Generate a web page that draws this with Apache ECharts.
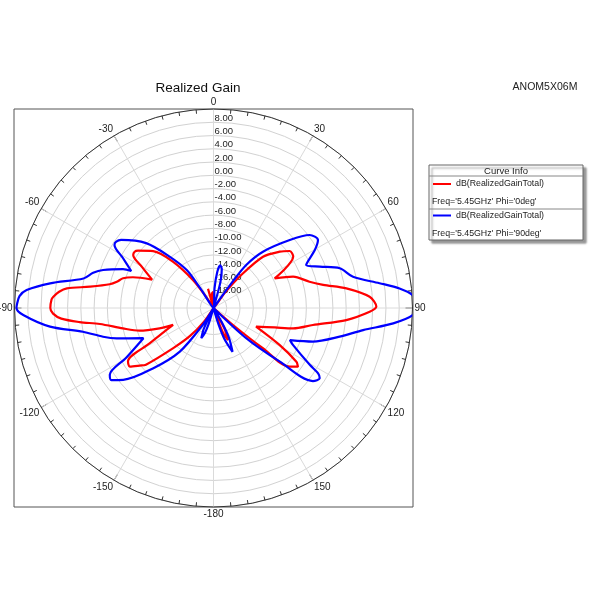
<!DOCTYPE html>
<html><head><meta charset="utf-8">
<script src="https://cdn.jsdelivr.net/npm/echarts@6/dist/echarts.min.js"></script>
<style>html,body{margin:0;padding:0;background:#fff}#c{width:600px;height:600px}</style>
</head><body><div id="c"></div>
<script>
// ---- text ----
const titleText = 'Realized Gain';
const designName = 'ANOM5X06M';
const legendTitle = 'Curve Info';
const seriesNames = ['dB(RealizedGainTotal)', 'dB(RealizedGainTotal)'];
const seriesSubtitles = ["Freq='5.45GHz' Phi='0deg'", "Freq='5.45GHz' Phi='90deg'"];
const seriesColors = ['#ff0000', '#0000ff'];

// ---- axes ----
const angleTickValues = [0, 30, 60, 90, 120, 150, 180, 210, 240, 270, 300, 330];
const angleTickLabels = ['0', '30', '60', '90', '120', '150', '-180', '-150', '-120', '-90', '-60', '-30'];
const radiusMin = -20, radiusMax = 10, radiusStep = 2;

// ---- data: theta (deg, -180..180) and gain (dB) ----
const redTheta = [-180, -150, -145, -140, -135, -130, -128, -125, -122, -118.9, -116.3, -112.7, -110.7, -107, -102.7, -98, -96, -94, -92, -90, -87, -86, -84, -82.4, -80.2, -77.1, -74.8, -71.8, -69.1, -65.2, -60.2, -56.6, -54.5, -52.8, -46.7, -41.2, -36.2, -33.5, -32, -20, -16, -11, -6, -2, 1, 35, 37, 40, 44, 49.6, 53.2, 57.2, 64.1, 68.5, 74.7, 78.1, 81.6, 85.9, 89.5, 91.4, 95.2, 99.7, 104.3, 107.6, 113.6, 119.2, 123.0, 124.8, 127.6, 129.2, 131.1, 133, 149, 152, 155.6, 159, 162, 180];
const redGain  = [-20, -20, -17.5, -14.5, -11.5, -6.7, -5.9, -4.6, -4.8, -9.1, -11.3, -13.4, -11.3, -8.3, -6.0, -2.7, 0.3, 3.0, 4.2, 4.6, 4.45, 4.2, 3.4, 2.3, -1.1, -3.95, -4.9, -5.65, -7.0, -9.8, -7.6, -5.5, -5.4, -5.7, -7.5, -10.7, -14.8, -18, -20, -20, -17, -19.5, -17.8, -17.6, -20, -20, -17, -13.5, -9.25, -6.9, -5.65, -5.7, -9.75, -7.1, -5.0, -3.1, 0.25, 3.6, 4.55, 3.55, 0.1, -4.8, -7.6, -10.3, -13.0, -8.6, -5.1, -4.5, -5.5, -10.4, -16.1, -20, -20, -16.5, -14.7, -16, -20, -20];

const blueTheta = [-180, -166, -163, -161, -158, -155, -152, -149, -147.5, -142.3, -134.9, -128.5, -125.2, -122.8, -119.6, -113.3, -107.4, -104.6, -100.3, -96.5, -92.1, -90, -89.1, -86.5, -84.5, -81.4, -77.2, -73.7, -71, -66.7, -65.8, -61.1, -57.5, -55.7, -53.6, -46.1, -40.5, -35.2, -34, -32.5, 1, 3, 6, 9, 12, 15, 18, 34, 36, 37.3, 41.3, 48.3, 52.8, 56.9, 60.2, 65.1, 68.7, 72.5, 77.4, 81.5, 84, 86.3, 89, 92, 94.9, 98.4, 102.8, 108.7, 112.8, 114.9, 120.6, 122, 123.5, 126.3, 129, 132.7, 135, 148, 150, 152.5, 156.5, 160.5, 163, 165, 180];
const blueGain  = [-20, -20, -17.5, -16, -15.1, -16.5, -20, -20, -17, -11.7, -7.1, -2.6, -1.15, -1.4, -4.9, -8.5, -4.7, -2.8, 0.0, 4.8, 8.7, 9.7, 9.65, 9.3, 8.3, 4.9, 0.1, -1.1, -2.4, -5.15, -6.4, -4.4, -2.3, -2.25, -2.7, -5.9, -9.8, -13, -16.4, -20, -20, -17, -14.5, -13.5, -14, -16, -20, -20, -15, -11.8, -8.7, -4.6, -1.8, -1.2, -2.4, -4.6, -2.8, -0.05, 1.55, 5.3, 8.2, 10.1, 10.8, 10.1, 7.2, 2.8, -0.5, -4.2, -7.5, -6.8, -3.1, -1.4, -0.8, -1.4, -7.2, -13.3, -20, -20, -17.5, -15, -12.8, -15, -17.5, -20, -20];

function toPolar(theta, gain) {
  return theta.map((t, i) => [gain[i], t < 0 ? t + 360 : t]);
}

const FONT = 'Liberation Sans, Arial, sans-serif';
const chart = echarts.init(document.getElementById('c'), null, {renderer: 'canvas'});

const lx = 429, ly = 165, lw = 154, lh = 75;

chart.setOption({
  animation: false,
  backgroundColor: '#ffffff',
  title: [
    {text: titleText, left: 193, top: 76, textAlign: 'center',
     textStyle: {fontFamily: FONT, fontSize: 13.5, fontWeight: 'normal', color: '#111'}},
    {text: designName, left: 540, top: 77, textAlign: 'center',
     textStyle: {fontFamily: FONT, fontSize: 10.5, fontWeight: 'normal', color: '#222'}}
  ],
  polar: {center: [213.5, 308], radius: 199},
  angleAxis: {
    type: 'value', min: 0, max: 360, interval: 30, startAngle: 90, clockwise: true,
    axisLine: {lineStyle: {color: '#333', width: 1}},
    axisTick: {show: true, inside: true, length: 7, lineStyle: {color: '#333'}},
    minorTick: {show: true, splitNumber: 6, length: 4, lineStyle: {color: '#333'}},
    axisLabel: {margin: 2, fontSize: 10, color: '#222', fontFamily: FONT,
      formatter: v => { const k = angleTickValues.indexOf(Math.round(v)); return k >= 0 ? angleTickLabels[k] : ''; }},
    splitLine: {show: true, lineStyle: {color: '#dadada', width: 1}}
  },
  radiusAxis: {
    type: 'value', min: radiusMin, max: radiusMax, interval: radiusStep,
    axisLine: {show: false}, axisTick: {show: false},
    splitLine: {show: true, lineStyle: {color: '#d2d2d2', width: 1}},
    axisLabel: {show: true, showMinLabel: false, showMaxLabel: false, margin: -1,
      align: 'left', verticalAlign: 'bottom', lineHeight: 8,
      fontSize: 9.5, color: '#222', fontFamily: FONT,
      formatter: v => v.toFixed(2)}
  },
  series: [
    {type: 'line', coordinateSystem: 'polar', name: seriesSubtitles[0], data: toPolar(redTheta, redGain),
     showSymbol: false, clip: true, smooth: 0.3, lineStyle: {color: seriesColors[0], width: 2.2}, z: 3},
    {type: 'line', coordinateSystem: 'polar', name: seriesSubtitles[1], data: toPolar(blueTheta, blueGain),
     showSymbol: false, clip: true, smooth: 0.3, lineStyle: {color: seriesColors[1], width: 2.2}, z: 4}
  ],
  graphic: [
    {type: 'rect', shape: {x: 14, y: 109, width: 399, height: 398}, silent: true, z: 0,
     style: {fill: 'none', stroke: '#555', lineWidth: 1}},
    {type: 'rect', shape: {x: lx, y: ly, width: lw, height: lh}, z: 10,
     style: {fill: '#fff', stroke: '#666', lineWidth: 1, shadowColor: 'rgba(0,0,0,0.4)', shadowOffsetX: 3, shadowOffsetY: 3, shadowBlur: 2}},
    {type: 'text', x: lx + lw / 2, y: ly + 6, z: 11, style: {text: legendTitle, fontSize: 9.5, fontFamily: FONT, fill: '#222', align: 'center', verticalAlign: 'middle'}},
    {type: 'line', z: 11, shape: {x1: lx, y1: ly + 11, x2: lx + lw, y2: ly + 11}, style: {stroke: '#888', lineWidth: 1}},
    {type: 'line', z: 11, shape: {x1: lx + 4, y1: ly + 19, x2: lx + 22, y2: ly + 19}, style: {stroke: seriesColors[0], lineWidth: 2}},
    {type: 'text', x: lx + 27, y: ly + 19, z: 11, style: {text: seriesNames[0], fontSize: 8.8, fontFamily: FONT, fill: '#222', verticalAlign: 'middle'}},
    {type: 'text', x: lx + 3, y: ly + 37, z: 11, style: {text: seriesSubtitles[0], fontSize: 8.8, fontFamily: FONT, fill: '#222', verticalAlign: 'middle'}},
    {type: 'line', z: 11, shape: {x1: lx, y1: ly + 44, x2: lx + lw, y2: ly + 44}, style: {stroke: '#888', lineWidth: 1}},
    {type: 'line', z: 11, shape: {x1: lx + 4, y1: ly + 50.5, x2: lx + 22, y2: ly + 50.5}, style: {stroke: seriesColors[1], lineWidth: 2}},
    {type: 'text', x: lx + 27, y: ly + 50.5, z: 11, style: {text: seriesNames[1], fontSize: 8.8, fontFamily: FONT, fill: '#222', verticalAlign: 'middle'}},
    {type: 'text', x: lx + 3, y: ly + 69, z: 11, style: {text: seriesSubtitles[1], fontSize: 8.8, fontFamily: FONT, fill: '#222', verticalAlign: 'middle'}}
  ]
});
</script></body></html>
